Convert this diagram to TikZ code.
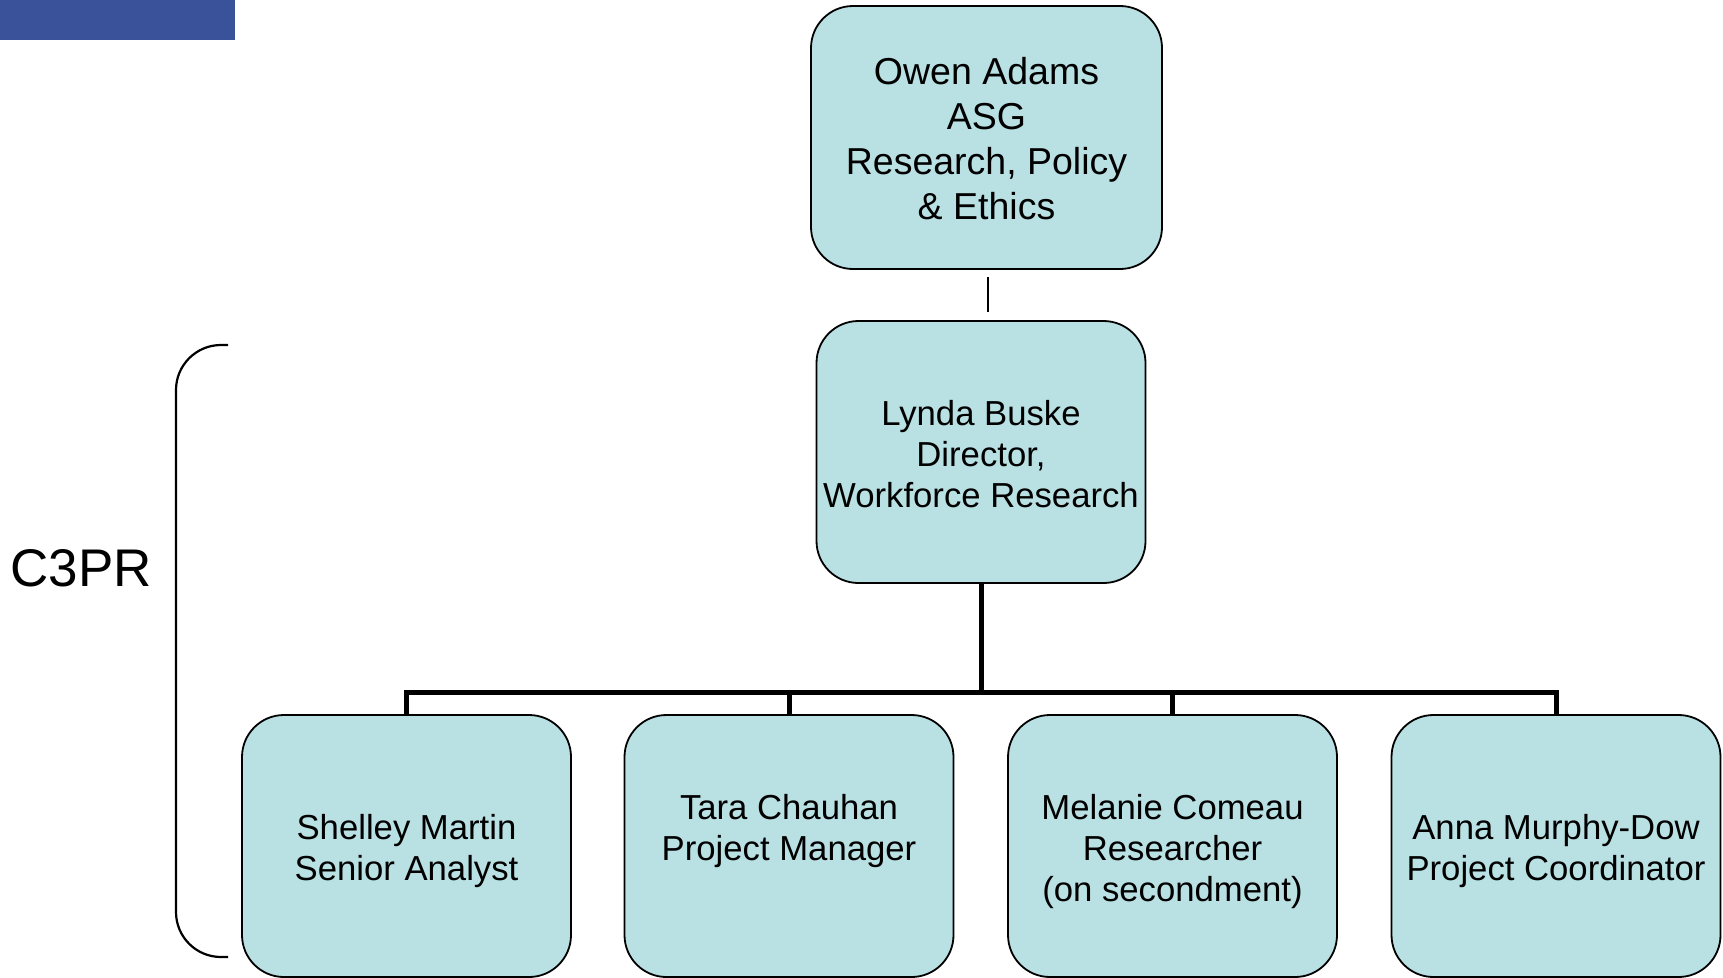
\documentclass[tikz,border=0pt]{standalone}
\usepackage{fontspec}
\setmainfont{Liberation Sans}
\definecolor{boxfill}{HTML}{B9E0E3}
\definecolor{barblue}{HTML}{39529A}
\tikzset{
  orgbox/.style={draw=black, line width=1.8pt, fill=boxfill, rounded corners=42pt,
    minimum width=329pt, minimum height=262pt, inner sep=0pt},
  orgtext/.style={inner sep=0pt, align=center, font=\fontsize{34.7}{41}\selectfont},
  busline/.style={line width=5pt, line join=miter},
  thinline/.style={line width=1.8pt},
}
\begin{document}
\begin{tikzpicture}[x=1pt, y=-1pt]
\useasboundingbox (0,0) rectangle (1723,977);
\fill[barblue] (0,0) rectangle (235,40);

\node[orgbox, minimum width=351pt, minimum height=263pt] (top) at (986.5,137.5) {};
\node[orgtext, font=\fontsize{37.5}{45}\selectfont] (toptext) at ([yshift=-1.5pt]top.center)
  {Owen Adams\\ASG\\Research, Policy\\\& Ethics};
\node[orgbox] (mid) at (981,452) {};
\node[orgtext] (midtext) at ([yshift=-2pt]mid.center) {Lynda Buske\\Director,\\Workforce Research};

\node[orgbox] (b1) at (406.5,846) {};
\node[orgbox] (b2) at (789,846) {};
\node[orgbox] (b3) at (1172.5,846) {};
\node[orgbox] (b4) at (1556,846) {};
\node[orgtext] (b1text) at ([yshift=-5.5pt]b1.center) {Shelley Martin\\Senior Analyst};
\node[orgtext] (b2text) at ([yshift=15pt]b2.center) {Tara Chauhan\\Project Manager};
\node[orgtext] (b3text) at ([yshift=-5.5pt]b3.center) {Melanie Comeau\\Researcher\\(on secondment)};
\node[orgtext] (b4text) at ([yshift=-5.5pt]b4.center) {Anna Murphy-Dow\\Project Coordinator};

\draw[thinline, shorten <=7pt, shorten >=8pt] ([xshift=1.5pt]top.south) -- ([xshift=1.5pt]top.south |- mid.north);

\coordinate (bus) at (981,692);
\draw[busline] (mid.south) -- (mid.south |- bus);
\draw[busline] (b1.north) -- (b1.north |- bus) -- (b4.north |- bus) -- (b4.north);
\draw[busline] (b2.north) -- (b2.north |- bus);
\draw[busline] (b3.north) -- (b3.north |- bus);

\coordinate (brtop) at (228,345);
\coordinate (brbot) at (228,957);
\draw[line width=2.2pt, rounded corners=45pt] (brtop) -- (176,345) -- (176,957) -- (brbot);

\node[font=\fontsize{53}{60}\selectfont, inner sep=0pt] (c3pr) at (81,568) {C3PR};
\end{tikzpicture}
\end{document}
